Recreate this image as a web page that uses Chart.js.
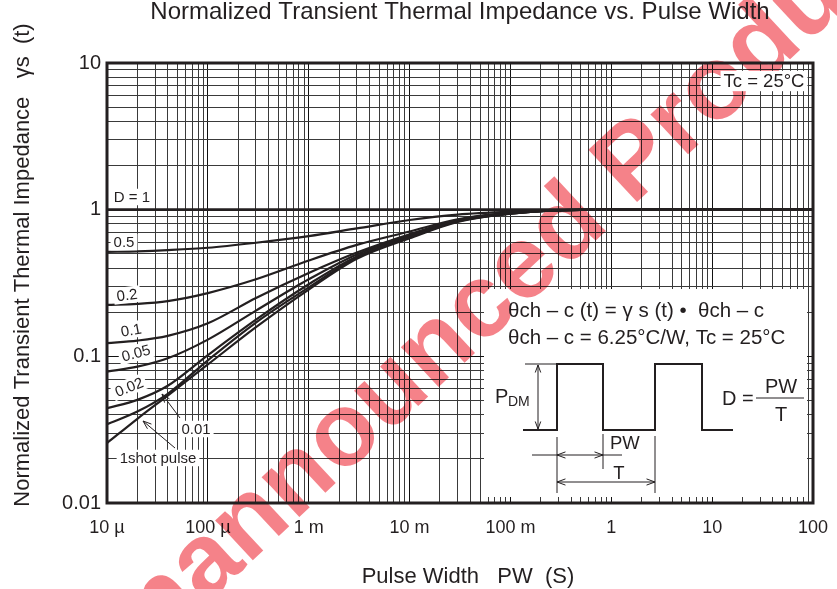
<!DOCTYPE html>
<html>
<head>
<meta charset="utf-8">
<script src="https://cdn.jsdelivr.net/npm/chart.js@4.4.0/dist/chart.umd.min.js"></script>
<style>
  html, body { margin: 0; padding: 0; background: #fff; }
  #wrap { width: 837px; height: 589px; }
</style>
</head>
<body>
<div id="wrap"><canvas id="mychart"></canvas></div>
<script>
// pulse width (s) where the curves were read
const pulseWidth = [1e-5, 2e-5, 4e-5, 1e-4, 3e-4, 1e-3, 3e-3, 1e-2, 3e-2, 0.1, 0.3, 1, 10, 100];

// normalized transient thermal impedance, one array per duty cycle
const dOne   = [1, 1, 1, 1, 1, 1, 1, 1, 1, 1, 1, 1, 1, 1];
const dHalf  = [0.515, 0.52, 0.53, 0.55, 0.595, 0.66, 0.745, 0.85, 0.925, 0.97, 0.993, 1, 1, 1];
const dFifth = [0.224, 0.228, 0.238, 0.27, 0.335, 0.45, 0.575, 0.71, 0.86, 0.955, 0.99, 1, 1, 1];
const dTenth = [0.123, 0.128, 0.138, 0.168, 0.25, 0.37, 0.51, 0.68, 0.85, 0.95, 0.99, 1, 1, 1];
const d005   = [0.0787, 0.085, 0.097, 0.13, 0.205, 0.335, 0.495, 0.665, 0.84, 0.945, 0.99, 1, 1, 1];
const d002   = [0.0443, 0.0505, 0.063, 0.102, 0.178, 0.31, 0.48, 0.65, 0.835, 0.94, 0.99, 1, 1, 1];
const d001   = [0.0344, 0.042, 0.0555, 0.094, 0.17, 0.295, 0.472, 0.645, 0.83, 0.94, 0.99, 1, 1, 1];
const dShot  = [0.0256, 0.0375, 0.054, 0.088, 0.158, 0.285, 0.462, 0.638, 0.826, 0.938, 0.99, 1, 1, 1];

const seriesNames = ["D = 1", "0.5", "0.2", "0.1", "0.05", "0.02", "0.01", "1shot pulse"];
const seriesValues = [dOne, dHalf, dFifth, dTenth, d005, d002, d001, dShot];

// axes
const xDecades = [1e-5, 1e-4, 1e-3, 1e-2, 1e-1, 1, 10, 100];
const xTickLabels = ["10 µ", "100 µ", "1 m", "10 m", "100 m", "1", "10", "100"];
const yDecades = [0.01, 0.1, 1, 10];
const yTickLabels = ["0.01", "0.1", "1", "10"];

const FONT = '"Liberation Sans", Arial, sans-serif';
const INK = "#231f20";

function logTicks(decades) {
  const t = [];
  for (let i = 0; i < decades.length - 1; i++) {
    for (let m = 1; m <= 9; m++) t.push({ value: m * decades[i] });
  }
  t.push({ value: decades[decades.length - 1] });
  return t;
}
function decadeLabel(v, decades, labels) {
  for (let i = 0; i < decades.length; i++) {
    if (Math.abs(Math.log10(v) - Math.log10(decades[i])) < 1e-6) return labels[i];
  }
  return "";
}
function isDecade(v) {
  const l = Math.log10(v);
  return Math.abs(l - Math.round(l)) < 1e-6;
}

function text(ctx, str, x, y, size, opts = {}) {
  ctx.save();
  ctx.translate(x, y);
  if (opts.angle) ctx.rotate((opts.angle * Math.PI) / 180);
  ctx.font = size + "px " + FONT;
  ctx.textAlign = opts.align || "center";
  ctx.textBaseline = "middle";
  if (opts.bg) {
    const w = ctx.measureText(str).width;
    let x0 = -w / 2;
    if (ctx.textAlign === "left") x0 = 0;
    if (ctx.textAlign === "right") x0 = -w;
    ctx.fillStyle = "#fff";
    ctx.fillRect(x0 - 3, -size * 0.55, w + 6, size * 1.1);
  }
  ctx.fillStyle = INK;
  ctx.fillText(str, 0, 1);
  ctx.restore();
}

function line(ctx, x1, y1, x2, y2) {
  ctx.beginPath();
  ctx.moveTo(x1, y1);
  ctx.lineTo(x2, y2);
  ctx.stroke();
}

function arrow(ctx, x1, y1, x2, y2, len = 8) {
  line(ctx, x1, y1, x2, y2);
  const a = Math.atan2(y2 - y1, x2 - x1);
  ctx.beginPath();
  ctx.moveTo(x2 - len * Math.cos(a - 0.35), y2 - len * Math.sin(a - 0.35));
  ctx.lineTo(x2, y2);
  ctx.lineTo(x2 - len * Math.cos(a + 0.35), y2 - len * Math.sin(a + 0.35));
  ctx.stroke();
}

const decorations = {
  id: "decorations",
  beforeDatasetsDraw(chart) {
    const { ctx, chartArea: a } = chart;
    ctx.save();
    // white box for the inset
    ctx.fillStyle = "#fff";
    ctx.fillRect(a.left + 377, a.top + 226, a.right - a.left - 383, a.bottom - a.top - 232);
    // watermark
    ctx.globalCompositeOperation = "multiply";
    ctx.translate(492, 298);
    ctx.rotate((-43 * Math.PI) / 180);
    ctx.font = "bold 104px " + FONT;
    ctx.textAlign = "center";
    ctx.textBaseline = "middle";
    ctx.fillStyle = "rgba(236, 28, 40, 0.55)";
    ctx.fillText("Unannounced Product", 0, 0);
    ctx.restore();
  },
  afterDatasetsDraw(chart) {
    const { ctx, chartArea: a } = chart;
    const L = a.left, T = a.top;
    ctx.save();

    // plot frame
    ctx.strokeStyle = INK;
    ctx.lineWidth = 3;
    ctx.strokeRect(a.left, a.top, a.right - a.left, a.bottom - a.top);

    // curve labels
    text(ctx, seriesNames[0], 132, 197, 15, { bg: true });
    text(ctx, seriesNames[1], 124, 242, 15, { bg: true });
    text(ctx, seriesNames[2], 127, 295, 15, { bg: true, angle: -7 });
    text(ctx, seriesNames[3], 131, 330, 15, { bg: true, angle: -10 });
    text(ctx, seriesNames[4], 136, 353, 15, { bg: true, angle: -15 });
    text(ctx, seriesNames[5], 129, 387, 15, { bg: true, angle: -22 });
    text(ctx, seriesNames[6], 196, 429, 15, { bg: true });
    text(ctx, seriesNames[7], 158, 458, 15, { bg: true });
    ctx.strokeStyle = INK;
    ctx.lineWidth = 1;
    arrow(ctx, 180, 418, 162, 394, 9);
    arrow(ctx, 175, 448, 143, 421, 9);
    text(ctx, "Tc = 25°C", 764, 81, 18.5, { bg: true });

    // inset: formula and pulse train
    const ox = L + 376, oy = T + 225;
    text(ctx, "θch – c (t) = γ s (t) •  θch – c", ox + 25, oy + 22, 20.5, { align: "left" });
    text(ctx, "θch – c = 6.25°C/W, Tc = 25°C", ox + 25, oy + 49, 20.5, { align: "left" });

    ctx.lineWidth = 2;
    ctx.beginPath();
    ctx.moveTo(ox + 40, oy + 142);
    ctx.lineTo(ox + 74, oy + 142);
    ctx.lineTo(ox + 74, oy + 76);
    ctx.lineTo(ox + 120, oy + 76);
    ctx.lineTo(ox + 120, oy + 142);
    ctx.lineTo(ox + 172, oy + 142);
    ctx.lineTo(ox + 172, oy + 76);
    ctx.lineTo(ox + 219, oy + 76);
    ctx.lineTo(ox + 219, oy + 142);
    ctx.lineTo(ox + 250, oy + 142);
    ctx.stroke();

    ctx.lineWidth = 1;
    line(ctx, ox + 42, oy + 76, ox + 74, oy + 76);
    arrow(ctx, ox + 55, oy + 109, ox + 55, oy + 77, 8);
    arrow(ctx, ox + 55, oy + 109, ox + 55, oy + 141, 8);
    text(ctx, "P", ox + 12, oy + 108, 20, { align: "left" });
    text(ctx, "DM", ox + 25, oy + 113, 14, { align: "left" });

    line(ctx, ox + 74, oy + 149, ox + 74, oy + 205);
    line(ctx, ox + 120, oy + 146, ox + 120, oy + 181);
    line(ctx, ox + 172, oy + 148, ox + 172, oy + 205);
    line(ctx, ox + 49, oy + 167, ox + 74, oy + 167);
    line(ctx, ox + 120, oy + 167, ox + 139, oy + 167);
    arrow(ctx, ox + 97, oy + 167, ox + 74, oy + 167, 9);
    arrow(ctx, ox + 97, oy + 167, ox + 120, oy + 167, 9);
    text(ctx, "PW", ox + 127, oy + 155, 18.5, { align: "left" });
    arrow(ctx, ox + 123, oy + 194, ox + 74, oy + 194, 9);
    arrow(ctx, ox + 123, oy + 194, ox + 172, oy + 194, 9);
    text(ctx, "T", ox + 136, oy + 185, 18.5);

    text(ctx, "D =", ox + 239, oy + 110, 20, { align: "left" });
    text(ctx, "PW", ox + 298, oy + 98, 20);
    line(ctx, ox + 273, oy + 110, ox + 321, oy + 110);
    text(ctx, "T", ox + 298, oy + 126, 20);

    ctx.restore();
  },
  afterDraw(chart) {
    const { ctx } = chart;
    text(ctx, "Normalized Transient Thermal Impedance vs. Pulse Width", 460, 11, 24);
    text(ctx, "Normalized Transient Thermal Impedance   γs  (t)", 22, 265, 22, { angle: -90 });
    text(ctx, "Pulse Width   PW  (S)", 468, 576, 22);
  },
};

const datasets = seriesValues.map((vals, i) => ({
  label: seriesNames[i],
  data: vals.map((v, j) => ({ x: pulseWidth[j], y: v })),
  borderColor: INK,
  borderWidth: i === 0 ? 2.8 : 2.2,
  pointRadius: 0,
  fill: false,
  cubicInterpolationMode: "monotone",
}));

const gridColor = (c) => (c.tick && isDecade(c.tick.value) ? "#111" : "#3a3a3a");

const myChart = new Chart(document.getElementById("mychart"), {
  type: "line",
  data: { datasets },
  plugins: [decorations],
  options: {
    responsive: true,
    maintainAspectRatio: false,
    animation: false,
    layout: { padding: { top: 63, right: 24, left: 0, bottom: 0 } },
    plugins: { legend: { display: false }, tooltip: { enabled: false } },
    scales: {
      x: {
        type: "logarithmic",
        min: 1e-5,
        max: 100,
        afterBuildTicks: (s) => { s.ticks = logTicks(xDecades); },
        afterFit: (s) => { s.height = 86; s.paddingLeft = 0; s.paddingRight = 0; },
        grid: { color: gridColor, lineWidth: 1, drawTicks: false },
        border: { display: false },
        ticks: {
          autoSkip: false,
          maxRotation: 0,
          padding: 14,
          color: INK,
          font: { family: FONT, size: 18 },
          callback: (v) => decadeLabel(v, xDecades, xTickLabels),
        },
      },
      y: {
        type: "logarithmic",
        min: 0.01,
        max: 10,
        afterBuildTicks: (s) => { s.ticks = logTicks(yDecades); },
        afterFit: (s) => { s.width = 107; s.paddingTop = 0; s.paddingBottom = 0; },
        grid: { color: gridColor, lineWidth: 1, drawTicks: false },
        border: { display: false },
        ticks: {
          autoSkip: false,
          padding: 6,
          color: INK,
          font: { family: FONT, size: 20 },
          callback: (v) => decadeLabel(v, yDecades, yTickLabels),
        },
      },
    },
  },
});
</script>
</body>
</html>
